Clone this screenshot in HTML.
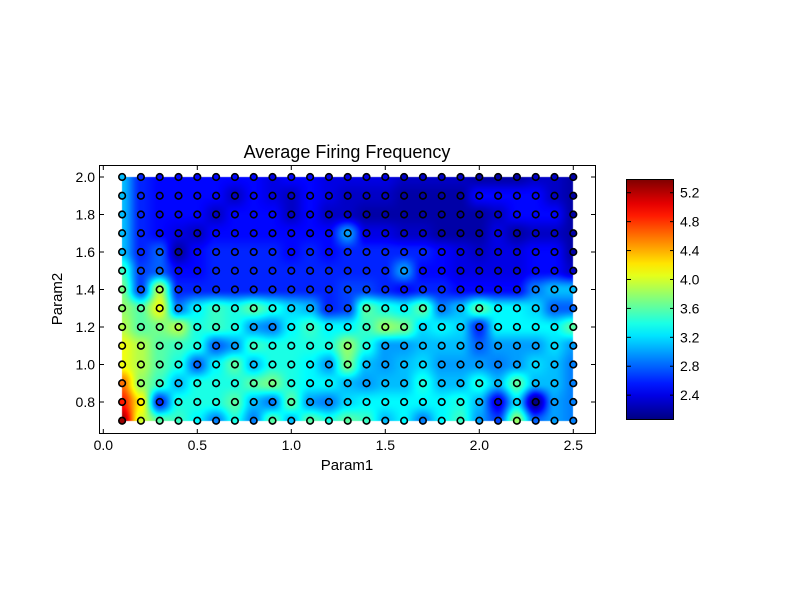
<!DOCTYPE html>
<html><head><meta charset="utf-8"><style>
body{margin:0;background:#fff;width:800px;height:600px;overflow:hidden;position:relative;font-family:"Liberation Sans",sans-serif}
canvas,svg{position:absolute;left:0;top:0}
</style></head><body>
<canvas id="heat" width="800" height="600"></canvas>
<svg id="chart" width="800" height="600"></svg>
<script>
const param1 = [0.1,0.2,0.3,0.4,0.5,0.6,0.7,0.8,0.9,1.0,1.1,1.2,1.3,1.4,1.5,1.6,1.7,1.8,1.9,2.0,2.1,2.2,2.3,2.4,2.5];
const param2 = [2.0,1.9,1.8,1.7,1.6,1.5,1.4,1.3,1.2,1.1,1.0,0.9,0.8,0.7];
const freq = [
[3.1,2.6,2.5,2.5,2.5,2.5,2.5,2.5,2.4,2.5,2.5,2.4,2.4,2.4,2.4,2.3,2.3,2.3,2.3,2.2,2.2,2.2,2.3,2.3,2.2],
[3.1,2.6,2.5,2.5,2.5,2.5,2.3,2.5,2.4,2.3,2.5,2.4,2.3,2.3,2.3,2.2,2.2,2.2,2.2,2.5,2.5,2.5,2.5,2.3,2.2],
[3.1,2.6,2.5,2.5,2.5,2.3,2.5,2.5,2.5,2.3,2.5,2.3,2.3,2.2,2.2,2.2,2.2,2.2,2.2,2.2,2.3,2.5,2.5,2.5,2.2],
[3.1,2.6,2.5,2.4,2.3,2.5,2.5,2.5,2.5,2.5,2.5,2.5,3.0,2.4,2.4,2.3,2.3,2.2,2.2,2.2,2.4,2.2,2.3,2.3,2.2],
[3.1,2.6,2.8,2.2,2.5,2.6,2.6,2.6,2.6,2.5,2.6,2.5,2.6,2.6,2.6,2.6,2.6,2.5,2.4,2.3,2.4,2.4,2.5,2.5,2.2],
[3.5,2.7,2.8,2.5,2.5,2.6,2.6,2.6,2.6,2.6,2.6,2.6,2.6,2.6,2.6,3.0,2.5,2.5,2.4,2.4,2.4,2.4,2.5,2.5,2.3],
[3.7,2.7,3.9,2.6,2.6,2.6,2.6,2.6,2.6,2.6,2.6,2.6,2.7,2.7,2.6,2.5,2.6,2.6,2.5,2.5,2.5,2.5,2.9,3.1,3.1],
[3.8,3.6,4.1,2.9,3.3,3.5,3.4,3.6,3.4,3.2,3.1,2.6,2.7,3.6,3.4,3.3,3.6,2.9,3.1,3.6,3.3,3.3,3.2,2.8,2.8],
[3.9,3.6,3.7,3.9,3.4,3.5,3.4,3.0,2.9,3.3,3.5,3.3,3.3,3.5,3.8,3.7,3.2,3.3,3.2,2.6,3.3,3.3,3.3,3.3,3.6],
[4.1,3.9,3.6,3.5,3.4,2.8,3.0,3.5,3.4,3.4,3.4,3.4,3.8,3.4,3.0,3.0,3.1,3.1,3.1,2.8,3.0,3.0,3.0,3.2,3.0],
[4.1,3.9,3.6,3.4,2.8,3.3,3.6,3.1,3.4,3.4,3.3,3.0,3.7,3.1,3.0,3.1,3.2,3.0,3.0,3.0,2.9,3.0,3.2,3.1,2.9],
[4.6,3.8,3.5,3.1,3.4,3.4,3.4,3.6,3.7,3.4,3.3,3.3,3.1,3.0,3.1,3.1,3.4,3.1,3.1,3.4,3.1,3.6,3.1,3.1,2.9],
[4.9,4.2,2.6,3.4,3.4,3.4,3.6,3.1,2.9,3.6,3.0,2.9,3.2,3.3,3.3,3.3,3.3,3.3,3.4,3.1,2.4,3.2,2.1,3.0,2.9],
[5.3,4.0,3.6,3.5,3.3,2.9,3.4,2.9,3.6,3.1,3.6,3.4,3.6,3.5,3.1,3.3,2.9,3.3,3.5,3.0,2.7,3.8,2.8,3.0,2.9]
];
const xTicks = [0.0,0.5,1.0,1.5,2.0,2.5];
const yTicks = [0.8,1.0,1.2,1.4,1.6,1.8,2.0];
const cTicks = [2.4,2.8,3.2,3.6,4.0,4.4,4.8,5.2];
const vmin = 2.07, vmax = 5.39;

const X = v => 103.3 + v*188;
const Y = v => 177 + (2.0 - v)*187.5;
const CY = v => 419 - (v - vmin)/(vmax - vmin)*240;
function clip(a){return Math.max(0,Math.min(1,a));}
function jet(v){
  const t = clip((v - vmin)/(vmax - vmin));
  const r = clip(1.5-Math.abs(4*t-3)), g = clip(1.5-Math.abs(4*t-2)), b = clip(1.5-Math.abs(4*t-1));
  return [Math.round(r*255),Math.round(g*255),Math.round(b*255)];
}
const css = c => `rgb(${c[0]},${c[1]},${c[2]})`;

const cv = document.getElementById('heat'), ctx = cv.getContext('2d');
const x0 = Math.round(X(param1[0])), x1 = Math.round(X(param1[param1.length-1]));
const y0 = Math.round(Y(param2[0])), y1 = Math.round(Y(param2[param2.length-1]));
const img = ctx.createImageData(x1-x0, y1-y0);
for(let py=0; py<y1-y0; py++){
  const fy = (py+0.5)/(y1-y0)*(param2.length-1);
  const j = Math.min(Math.floor(fy), param2.length-2), ty = fy-j;
  for(let px=0; px<x1-x0; px++){
    const fx = (px+0.5)/(x1-x0)*(param1.length-1);
    const i = Math.min(Math.floor(fx), param1.length-2), tx = fx-i;
    const sx = tx*tx*(3-2*tx), sy = ty*ty*(3-2*ty);
    const v = (freq[j][i]*(1-sx)+freq[j][i+1]*sx)*(1-sy) + (freq[j+1][i]*(1-sx)+freq[j+1][i+1]*sx)*sy;
    const c = jet(v), k = (py*(x1-x0)+px)*4;
    img.data[k]=c[0]; img.data[k+1]=c[1]; img.data[k+2]=c[2]; img.data[k+3]=255;
  }
}
ctx.putImageData(img, x0, y0);

const NS = 'http://www.w3.org/2000/svg';
const svg = document.getElementById('chart');
function el(tag, attrs, parent){
  const e = document.createElementNS(NS, tag);
  for(const k in attrs) e.setAttribute(k, attrs[k]);
  (parent||svg).appendChild(e); return e;
}
const pts = el('g', {});


for(let j=0;j<param2.length;j++) for(let i=0;i<param1.length;i++){
  const c = el('circle', {cx:X(param1[i]), cy:Y(param2[j]), r:3.3, fill:css(jet(freq[j][i])), stroke:'#000', 'stroke-width':1.6}, pts);
  
  
}
const frame = el('rect', {x:99.5, y:165.5, width:496, height:268, fill:'none', stroke:'#000', 'stroke-width':1});


for(const t of xTicks){
  const x = X(t);
  el('line',{x1:x,x2:x,y1:433,y2:429,stroke:'#000'});
  el('line',{x1:x,x2:x,y1:166,y2:170,stroke:'#000'});
  const tx = el('text',{x:x,y:450,'font-size':14,'text-anchor':'middle',fill:'#000'});
  tx.textContent = t.toFixed(1);
  
  
}
for(const t of yTicks){
  const y = Y(t);
  el('line',{x1:100,x2:104,y1:y,y2:y,stroke:'#000'});
  el('line',{x1:595,x2:591,y1:y,y2:y,stroke:'#000'});
  const ty = el('text',{x:95,y:y+5,'font-size':14,'text-anchor':'end',fill:'#000'});
  ty.textContent = t.toFixed(1);
  
  
}
const title = el('text',{x:347,y:158,'font-size':18,'text-anchor':'middle'});
title.textContent = 'Average Firing Frequency';


const xl = el('text',{x:347,y:470,'font-size':15,'text-anchor':'middle'});
xl.textContent = 'Param1';


const yl = el('text',{x:0,y:0,'font-size':15,'text-anchor':'middle',transform:'translate(62,299) rotate(-90)'});
yl.textContent = 'Param2';


const defs = el('defs',{});
const lg = el('linearGradient',{id:'jetg',x1:0,y1:1,x2:0,y2:0},defs);
for(let s=0;s<=20;s++){
  const v = vmin + (vmax-vmin)*s/20;
  el('stop',{offset:(s/20),'stop-color':css(jet(v))},lg);
}
const cb = el('rect',{x:626.5,y:179.5,width:47,height:240,fill:'url(#jetg)',stroke:'#000','stroke-width':1});


for(const t of cTicks){
  const y = CY(t);
  el('line',{x1:674,x2:670,y1:y,y2:y,stroke:'#000'});
  el('line',{x1:627,x2:631,y1:y,y2:y,stroke:'#000'});
  const ct = el('text',{x:680,y:y+5,'font-size':14,fill:'#000'});
  ct.textContent = t.toFixed(1);
  
  
}
</script>
</body></html>
